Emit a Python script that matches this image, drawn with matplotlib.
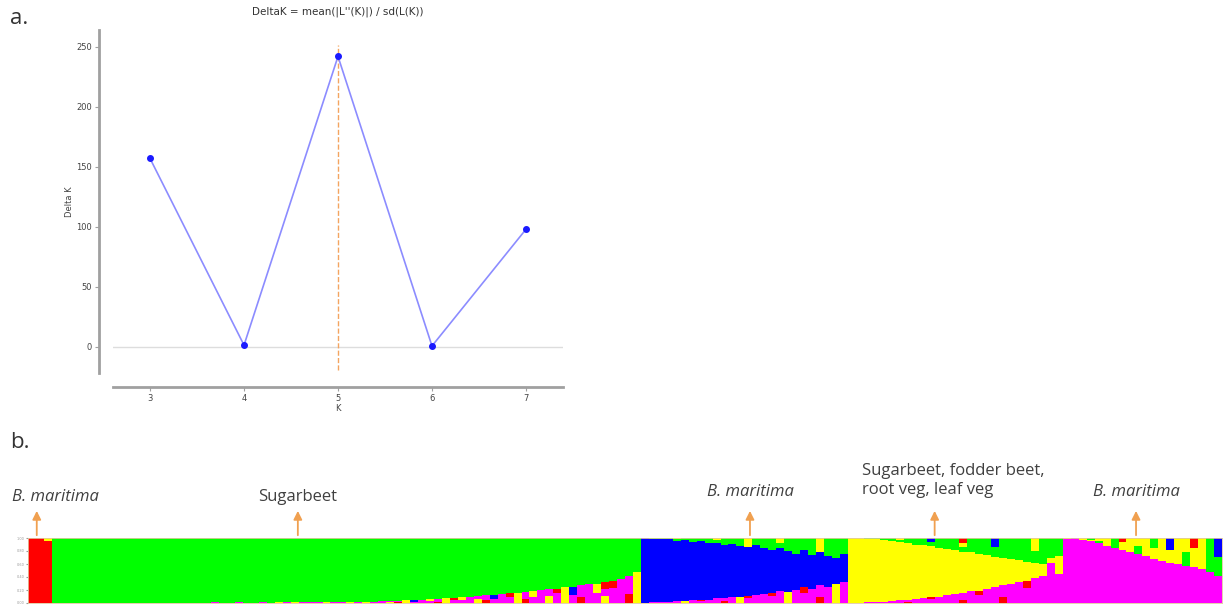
import numpy as np
import matplotlib
matplotlib.use("Agg")
import matplotlib.pyplot as plt

# ---- panel a: Evanno DeltaK ----
K = [3, 4, 5, 6, 7]
delta_k = [157, 1.5, 242, 0.8, 98]
best_k = 5

# ---- panel b: STRUCTURE K=5 ancestry bars ----
clr = {'r': '#ff0000', 'g': '#00ff00', 'b': '#0000ff', 'y': '#ffff00', 'm': '#ff00ff'}

# red group (B. maritima)
red_main = [1.00, 1.00, 0.96]
red_top = [0.00, 0.00, 0.04]
red_top_codes = "g g y".split()
red_bot_codes = "m m m".split()

# green group (sugarbeet)
green_main = [
    1.00, 1.00, 1.00, 1.00, 1.00, 1.00, 1.00, 1.00, 1.00, 1.00,
    1.00, 1.00, 1.00, 1.00, 1.00, 1.00, 1.00, 1.00, 1.00, 1.00,
    0.99, 1.00, 1.00, 0.99, 1.00, 1.00, 0.99, 1.00, 0.99, 0.99,
    0.99, 0.99, 0.99, 0.98, 0.99, 0.99, 0.99, 0.985, 0.985, 0.98,
    0.98, 0.975, 0.97, 0.965, 0.96, 0.955, 0.95, 0.94, 0.935, 0.93,
    0.92, 0.91, 0.90, 0.89, 0.88, 0.87, 0.86, 0.85, 0.84, 0.83,
    0.82, 0.80, 0.79, 0.78, 0.76, 0.75, 0.73, 0.71, 0.70, 0.68,
    0.66, 0.63, 0.59, 0.52]
green_top = [0.0] * len(green_main)
green_top_codes = ["r"] * len(green_main)
green_bot_codes = ("m y m m y m y y m m y m m m y m m y m m m y m m y m m y y m "
                   "my m ym mmr y m rmm my m y mmr m ym rmm y mb m my rmm y "
                   "mmr my m ym rmm mb m mmr y rmm my m ym mmr y mb rmm m my ymr mmr m rmm y").split()

# blue group (B. maritima)
blue_top = [0.00, 0.01, 0.02, 0.02, 0.04, 0.03, 0.06, 0.05, 0.08, 0.07,
            0.10, 0.09, 0.12, 0.14, 0.11, 0.16, 0.18, 0.15, 0.20, 0.24,
            0.19, 0.26, 0.22, 0.28, 0.30, 0.25]
blue_bot = [0.00, 0.01, 0.01, 0.02, 0.03, 0.03, 0.04, 0.05, 0.05, 0.07,
            0.08, 0.09, 0.10, 0.11, 0.13, 0.14, 0.16, 0.18, 0.17, 0.20,
            0.24, 0.22, 0.27, 0.25, 0.30, 0.33]
blue_top_codes = "g g g g gy g g g g gy g g g y g g g gy g g g g y g g g".split()
blue_bot_codes = "m m m mmr m y m mmr m m rmm m y mmr m m mmr m y m mmr m rmm m y m".split()

# yellow group (sugarbeet, fodder beet, root veg, leaf veg)
yellow_top = [0.00, 0.00, 0.01, 0.02, 0.03, 0.05, 0.06, 0.08, 0.10, 0.11,
              0.13, 0.15, 0.17, 0.18, 0.21, 0.22, 0.25, 0.26, 0.29, 0.30,
              0.33, 0.34, 0.37, 0.39, 0.40, 0.30]
yellow_bot = [0.00, 0.00, 0.01, 0.01, 0.02, 0.03, 0.04, 0.05, 0.06, 0.08,
              0.09, 0.10, 0.12, 0.14, 0.15, 0.18, 0.19, 0.22, 0.24, 0.27,
              0.29, 0.32, 0.34, 0.38, 0.42, 0.62]
yellow_top_codes = "g g g g g g gy g g g gb g g g gyr g g g gb g g g g gy g g".split()
yellow_bot_codes = "m m m m mmr m m rmm m m mmr m m m rmm m mmr m m rmm m m mmr m m m".split()

# magenta group (B. maritima)
magenta_main = [0.45, 0.98, 1.00, 0.97, 0.95, 0.92, 0.88, 0.85, 0.82, 0.78,
                0.75, 0.72, 0.68, 0.65, 0.62, 0.60, 0.57, 0.55, 0.52, 0.48, 0.42]
magenta_top_codes = "yg y g y yg gy y g yyr y gy y yg y yb y gy yyr y g gb".split()

arrow_pos = [1.1, 33.9, 90.7, 113.9, 139.2]   # bar index of each arrow
labels = ["B. maritima", "Sugarbeet", "B. maritima",
          "Sugarbeet, fodder beet,\nroot veg, leaf veg", "B. maritima"]

# build per-bar segment lists (bottom -> top)
bars = []
def add_group(main_col, main, top, bot, top_codes, bot_codes):
    for i in range(len(main)):
        segs = []
        for c in bot_codes[i]:
            segs.append((bot[i] / len(bot_codes[i]), c))
        segs.append((main[i], main_col))
        for c in top_codes[i]:
            segs.append((top[i] / len(top_codes[i]), c))
        bars.append(segs)

add_group('r', red_main, red_top, [0.0] * 3, red_top_codes, red_bot_codes)
green_bot = [1 - v for v in green_main]
add_group('g', green_main, green_top, green_bot, green_top_codes, green_bot_codes)
blue_main = [1 - t - b for t, b in zip(blue_top, blue_bot)]
add_group('b', blue_main, blue_top, blue_bot, blue_top_codes, blue_bot_codes)
yellow_main = [1 - t - b for t, b in zip(yellow_top, yellow_bot)]
add_group('y', yellow_main, yellow_top, yellow_bot, yellow_top_codes, yellow_bot_codes)
magenta_top = [1 - v for v in magenta_main]
add_group('m', magenta_main, magenta_top, [0.0] * len(magenta_main),
          magenta_top_codes, ["m"] * len(magenta_main))

W, H = 1225, 608
fig = plt.figure(figsize=(W / 100, H / 100), dpi=100)
plt.rcParams['font.family'] = ['DejaVu Sans']

# ---- panel a ----
ax = fig.add_axes([113 / W, 1 - 373 / H, 450 / W, 343 / H])
ax.axhline(0, color='#dddddd', lw=1, zorder=1)
ax.axvline(best_k, ymin=0.01, ymax=0.956, color='#f4a460', ls='--', lw=1, zorder=1)
ax.plot(K, delta_k, color='#8c8cff', lw=1.2, zorder=2)
ax.plot(K, delta_k, 'o', color='#1a1aff', ms=4, zorder=3)
ax.set_xlim(2.606, 7.394)
ax.set_ylim(-21.7, 264)
ax.set_xticks(K)
ax.set_yticks([0, 50, 100, 150, 200, 250])
for s in ['top', 'right']:
    ax.spines[s].set_visible(False)
for s in ['left', 'bottom']:
    ax.spines[s].set_position(('outward', 10))
    ax.spines[s].set_color('#a0a0a0')
    ax.spines[s].set_linewidth(2)
ax.tick_params(length=3, color='#a0a0a0', labelsize=6, labelcolor='#444444', pad=2)
ax.set_xlabel('K', fontsize=6, color='#444444', labelpad=1)
ax.set_ylabel('Delta K', fontsize=6, color='#444444', labelpad=2)
fig.text(338 / W, 1 - 12 / H, "DeltaK = mean(|L''(K)|) / sd(L(K))", fontsize=7.5,
         color='#333333', ha='center', va='center')
fig.text(10 / W, 1 - 18 / H, "a.", fontsize=16, color='#333333', va='center',
         family='Open Sans')
fig.text(10 / W, 1 - 443 / H, "b.", fontsize=16, color='#333333', va='center',
         family='Open Sans')

# ---- panel b ----
bx = fig.add_axes([28 / W, 1 - 603 / H, 1194 / W, 65 / H])
for i, segs in enumerate(bars):
    base = 0.0
    for frac, c in segs:
        if frac > 0:
            bx.bar(i, frac, bottom=base, width=1.05, align='edge', color=clr[c], lw=0)
        base += frac
bx.set_xlim(0, len(bars))
bx.set_ylim(0, 1)
bx.set_xticks([])
bx.set_yticks([0, 0.2, 0.4, 0.6, 0.8, 1.0])
bx.set_yticklabels(["0.00", "0.20", "0.40", "0.60", "0.80", "1.00"])
bx.tick_params(axis='y', labelsize=2.5, length=1.5, pad=1, colors='#999999')
for s in bx.spines.values():
    s.set_color('#e0c8a0')
    s.set_linewidth(0.6)

label_y = [1.63, 1.63, 1.71, 1.88, 1.71]
for p, lab, ly in zip(arrow_pos, labels, label_y):
    bx.annotate("", xy=(p, 1.46), xytext=(p, 1.0), xycoords='data',
                arrowprops=dict(arrowstyle='-|>,head_length=0.5,head_width=0.25',
                                color='#f0a050', lw=1.3), annotation_clip=False)
    if lab.startswith("B."):
        bx.text(p if p > 5 else 3.4, ly, lab, ha='center', va='center',
                fontsize=12, style='italic', color='#404040', family='Open Sans')
    elif "\n" in lab:
        bx.text(104.8, ly, lab, ha='left', va='center', fontsize=12,
                color='#404040', family='Open Sans', linespacing=1.25)
    else:
        bx.text(p, ly, lab, ha='center', va='center', fontsize=12,
                color='#404040', family='Open Sans')

fig.savefig("out.png", dpi=100)
